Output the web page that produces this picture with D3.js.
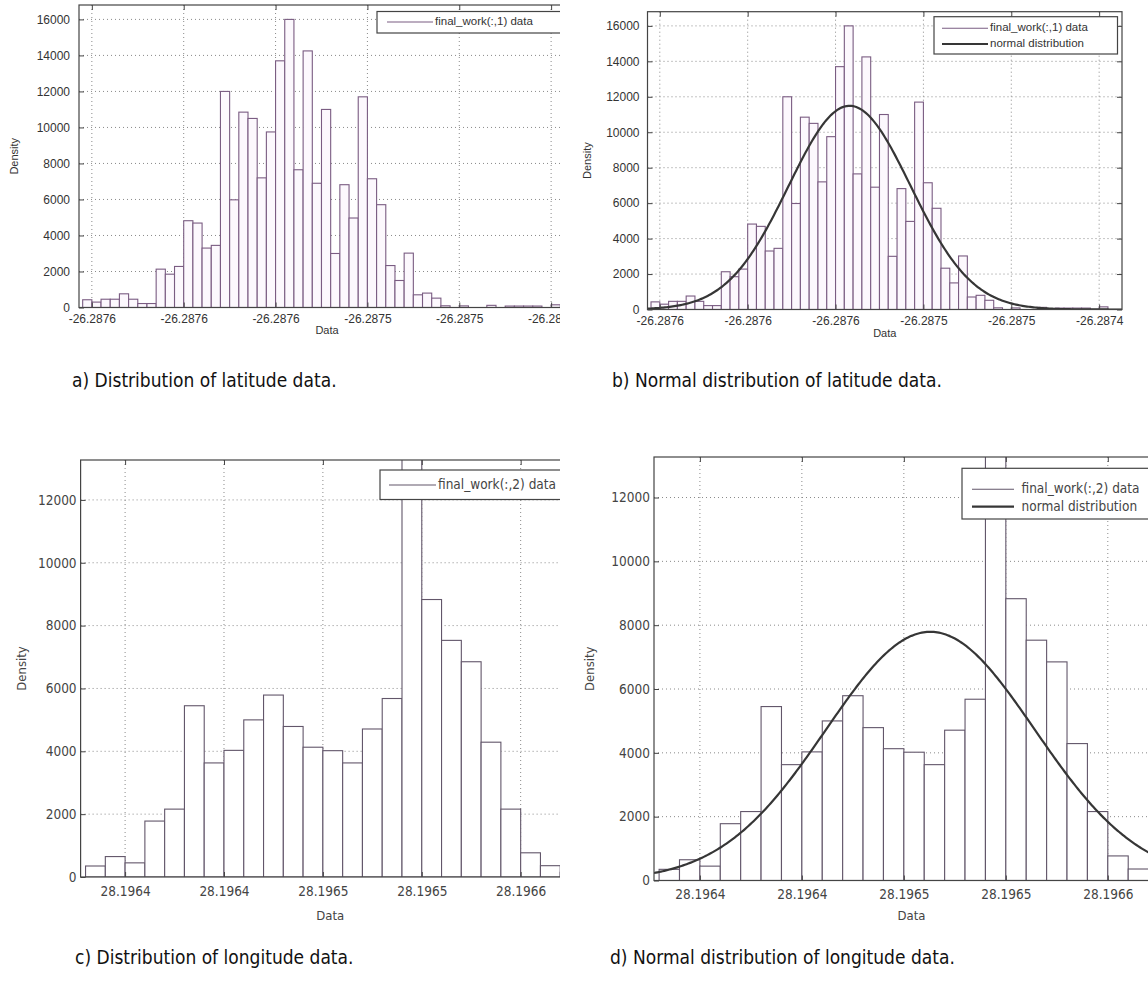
<!DOCTYPE html>
<html>
<head>
<meta charset="utf-8">
<script src="https://cdn.jsdelivr.net/npm/d3@7"></script>
<style>
    body { margin: 0; background: #fff; }
    .caption { font-family: "DejaVu Sans"; font-stretch: condensed; font-size: 19px; fill: #111; }
    .narrow { font-stretch: condensed; }
</style>
</head>
<body>
<svg id="chart" width="1148" height="1003"></svg>
<script>
// latitude histogram (density per bin)
const latDensity = [430, 300, 460, 460, 760, 460, 220, 220, 2130, 1850, 2280, 4820, 4690, 3300, 3450,
    12000, 5980, 10850, 10500, 7200, 9750, 13700, 16000, 7650, 14250, 6900, 11000, 3000, 6820, 4970,
    11700, 7150, 5710, 2330, 1500, 3020, 705, 800, 520, 95, 0, 90, 0, 0, 120, 0, 80, 80, 80, 80, 0, 150];
const latBinStart = -26.287655;
const latBinWidth = 0.000005;
const latXlim = [-26.287657, -26.287387];
const latTicks = [-26.28765, -26.2876, -26.28755, -26.2875, -26.28745, -26.2874];
const latTickLabels = ["-26.2876", "-26.2876", "-26.2876", "-26.2875", "-26.2875", "-26.2874"];
const latYTicks = [0, 2000, 4000, 6000, 8000, 10000, 12000, 14000, 16000];
const latFit = { mean: -26.287542, sd: 0.00003472 };

// longitude histogram
const lonDensity = [350, 650, 450, 1780, 2160, 5450, 3630, 4030, 5000, 5790, 4790, 4130, 4020, 3630,
    4710, 5680, 13800, 8830, 7530, 6850, 4290, 2160, 770, 360, 150];
const lonBinStart = 28.19638;
const lonBinWidth = 0.00001;
const lonXlim = [28.1963775, 28.19663];
const lonTicks = [28.1964, 28.19645, 28.1965, 28.19655, 28.1966];
const lonTickLabels = ["28.1964", "28.1964", "28.1965", "28.1965", "28.1966"];
const lonYTicks = [0, 2000, 4000, 6000, 8000, 10000, 12000];
const lonFit = { mean: 28.196513, sd: 0.0000512 };

const captions = [
    { text: "a) Distribution of latitude data.", x: 72, y: 387 },
    { text: "b) Normal distribution of latitude data.", x: 612, y: 387 },
    { text: "c) Distribution of longitude data.", x: 75, y: 964 },
    { text: "d) Normal distribution of longitude data.", x: 610, y: 964 }
];

const svg = d3.select("#chart");
const defs = svg.append("defs");
svg.append("rect").attr("width", 1148).attr("height", 1003).attr("fill", "#fff");

const smallFont = { family: "'Liberation Sans', Arial, sans-serif", narrow: false, tick: 12, label: 11, legend: 11.5, color: "#333" };
const narrowFont = { family: "'DejaVu Sans', sans-serif", narrow: true, tick: 13.5, label: 13, legend: 13.5, color: "#444" };

const panels = [
    { id: "a", clip: [0, 0, 560, 345], box: { l: 79, r: 575, t: 5, b: 307.5 },
      values: latDensity, start: latBinStart, width: latBinWidth, xlim: latXlim, ymax: 16800,
      ticks: latTicks, tickLabels: latTickLabels, yTicks: latYTicks, fit: null,
      barStroke: "#7a5c82", barFill: "#fcf8fd", font: smallFont, xPad: 7, yPad: 9,
      densityX: 15, dataY: 331,
      legend: { x: 377, y: 11.5, w: 230, h: 21.5, lineX: [387, 433], textX: 435,
                rows: [{ text: "final_work(:,1) data", y: 22, fit: false }] } },
    { id: "b", clip: [565, 0, 583, 345], box: { l: 647.5, r: 1122, t: 11.7, b: 309.5 },
      values: latDensity, start: latBinStart, width: latBinWidth, xlim: latXlim, ymax: 16800,
      ticks: latTicks, tickLabels: latTickLabels, yTicks: latYTicks, fit: latFit,
      barStroke: "#7a5c82", barFill: "#fcf8fd", font: smallFont, xPad: 7, yPad: 8,
      densityX: 588, dataY: 334,
      legend: { x: 934, y: 16.7, w: 183.5, h: 37.3, lineX: [942, 988], textX: 990,
                rows: [{ text: "final_work(:,1) data", y: 28.3, fit: false },
                       { text: "normal distribution", y: 44, fit: true }] } },
    { id: "c", clip: [0, 420, 560, 515], box: { l: 80.6, r: 580, t: 460, b: 877 },
      values: lonDensity, start: lonBinStart, width: lonBinWidth, xlim: lonXlim, ymax: 13270,
      ticks: lonTicks, tickLabels: lonTickLabels, yTicks: lonYTicks, fit: null,
      barStroke: "#62566a", barFill: "#ffffff", font: narrowFont, xPad: 9, yPad: 4,
      densityX: 22, dataY: 916,
      legend: { x: 380, y: 470, w: 230, h: 29.5, lineX: [389, 436], textX: 438,
                rows: [{ text: "final_work(:,2) data", y: 485, fit: false }] } },
    { id: "d", clip: [565, 420, 583, 515], box: { l: 654, r: 1169, t: 457, b: 880.5 },
      values: lonDensity, start: lonBinStart, width: lonBinWidth, xlim: lonXlim, ymax: 13270,
      ticks: lonTicks, tickLabels: lonTickLabels, yTicks: lonYTicks, fit: lonFit,
      barStroke: "#62566a", barFill: "#ffffff", font: narrowFont, xPad: 9, yPad: 4,
      densityX: 590, dataY: 916,
      legend: { x: 962, y: 468.3, w: 230, h: 50.7, lineX: [972, 1014], textX: 1021.5,
                rows: [{ text: "final_work(:,2) data", y: 489.3, fit: false },
                       { text: "normal distribution", y: 506.7, fit: true }] } }
];

function normalPdf(v, fit) {
    const z = (v - fit.mean) / fit.sd;
    return Math.exp(-0.5 * z * z) / (fit.sd * Math.sqrt(2 * Math.PI));
}

function styleText(sel, f, size) {
    sel.style("font-family", f.family).style("font-size", size + "px").attr("fill", f.color)
        .classed("narrow", f.narrow);
}

function drawPanel(p) {
    const b = p.box;
    defs.append("clipPath").attr("id", "panel-" + p.id)
        .append("rect").attr("x", p.clip[0]).attr("y", p.clip[1]).attr("width", p.clip[2]).attr("height", p.clip[3]);
    defs.append("clipPath").attr("id", "plot-" + p.id)
        .append("rect").attr("x", b.l).attr("y", b.t).attr("width", b.r - b.l).attr("height", b.b - b.t);

    const g = svg.append("g").attr("clip-path", `url(#panel-${p.id})`);
    const x = d3.scaleLinear().domain(p.xlim).range([b.l, b.r]);
    const y = d3.scaleLinear().domain([0, p.ymax]).range([b.b, b.t]);
    const f = p.font;

    // dotted grid
    const grid = g.append("g").attr("stroke", "#8a8a8a").attr("stroke-width", 1).attr("stroke-dasharray", "1,3");
    p.ticks.forEach(t => grid.append("line")
        .attr("x1", x(t)).attr("x2", x(t)).attr("y1", b.t).attr("y2", b.b));
    p.yTicks.slice(1).forEach(t => grid.append("line")
        .attr("x1", b.l).attr("x2", b.r).attr("y1", y(t)).attr("y2", y(t)));

    // histogram bars
    const plot = g.append("g").attr("clip-path", `url(#plot-${p.id})`);
    plot.selectAll("rect.bar").data(p.values).join("rect")
        .attr("class", "bar")
        .attr("x", (d, i) => x(p.start + i * p.width))
        .attr("width", (d, i) => x(p.start + (i + 1) * p.width) - x(p.start + i * p.width))
        .attr("y", d => y(d))
        .attr("height", d => y(0) - y(d))
        .attr("fill", p.barFill)
        .attr("stroke", p.barStroke)
        .attr("stroke-width", 1.1);

    // fitted normal curve
    if (p.fit) {
        const xs = d3.range(0, 301).map(k => p.xlim[0] + (p.xlim[1] - p.xlim[0]) * k / 300);
        plot.append("path")
            .datum(xs)
            .attr("d", d3.line().x(v => x(v)).y(v => y(normalPdf(v, p.fit))))
            .attr("fill", "none")
            .attr("stroke", "#363636")
            .attr("stroke-width", 2.2);
    }

    // axes (MATLAB style inward ticks)
    const axisStyle = sel => {
        sel.selectAll("path.domain").remove();
        sel.selectAll("line").attr("stroke", "#444");
        sel.selectAll("text").call(styleText, f, f.tick);
    };
    g.append("g").attr("transform", `translate(0,${b.b})`)
        .call(d3.axisBottom(x).tickValues(p.ticks).tickFormat((d, i) => p.tickLabels[i])
            .tickSizeInner(-5).tickSizeOuter(0).tickPadding(p.xPad))
        .call(axisStyle);
    g.append("g").attr("transform", `translate(0,${b.t})`)
        .call(d3.axisTop(x).tickValues(p.ticks).tickFormat("").tickSizeInner(-5).tickSizeOuter(0))
        .call(axisStyle);
    g.append("g").attr("transform", `translate(${b.l},0)`)
        .call(d3.axisLeft(y).tickValues(p.yTicks).tickFormat(d3.format("d"))
            .tickSizeInner(-5).tickSizeOuter(0).tickPadding(p.yPad))
        .call(axisStyle);
    g.append("g").attr("transform", `translate(${b.r},0)`)
        .call(d3.axisRight(y).tickValues(p.yTicks).tickFormat("").tickSizeInner(-5).tickSizeOuter(0))
        .call(axisStyle);
    g.append("rect")
        .attr("x", b.l).attr("y", b.t).attr("width", b.r - b.l).attr("height", b.b - b.t)
        .attr("fill", "none").attr("stroke", "#444").attr("stroke-width", 1.2);

    // axis labels
    g.append("text")
        .attr("x", (b.l + b.r) / 2).attr("y", p.dataY)
        .attr("text-anchor", "middle").attr("dominant-baseline", "middle")
        .call(styleText, f, f.label)
        .text("Data");
    g.append("text")
        .attr("transform", `translate(${p.densityX},${(b.t + b.b) / 2}) rotate(-90)`)
        .attr("text-anchor", "middle").attr("dominant-baseline", "middle")
        .call(styleText, f, f.label)
        .text("Density");

    // legend
    const L = p.legend;
    const lg = g.append("g");
    lg.append("rect").attr("x", L.x).attr("y", L.y).attr("width", L.w).attr("height", L.h)
        .attr("fill", "#fff").attr("stroke", "#444").attr("stroke-width", 1.2);
    L.rows.forEach(r => {
        lg.append("line").attr("x1", L.lineX[0]).attr("x2", L.lineX[1]).attr("y1", r.y).attr("y2", r.y)
            .attr("stroke", r.fit ? "#363636" : p.barStroke).attr("stroke-width", r.fit ? 2.2 : 1.1);
        lg.append("text").attr("x", L.textX).attr("y", r.y).attr("dominant-baseline", "middle")
            .call(styleText, f, f.legend)
            .text(r.text);
    });
}

panels.forEach(drawPanel);

svg.selectAll("text.caption").data(captions).join("text")
    .attr("class", "caption")
    .attr("x", d => d.x).attr("y", d => d.y)
    .text(d => d.text);
</script>
</body>
</html>
